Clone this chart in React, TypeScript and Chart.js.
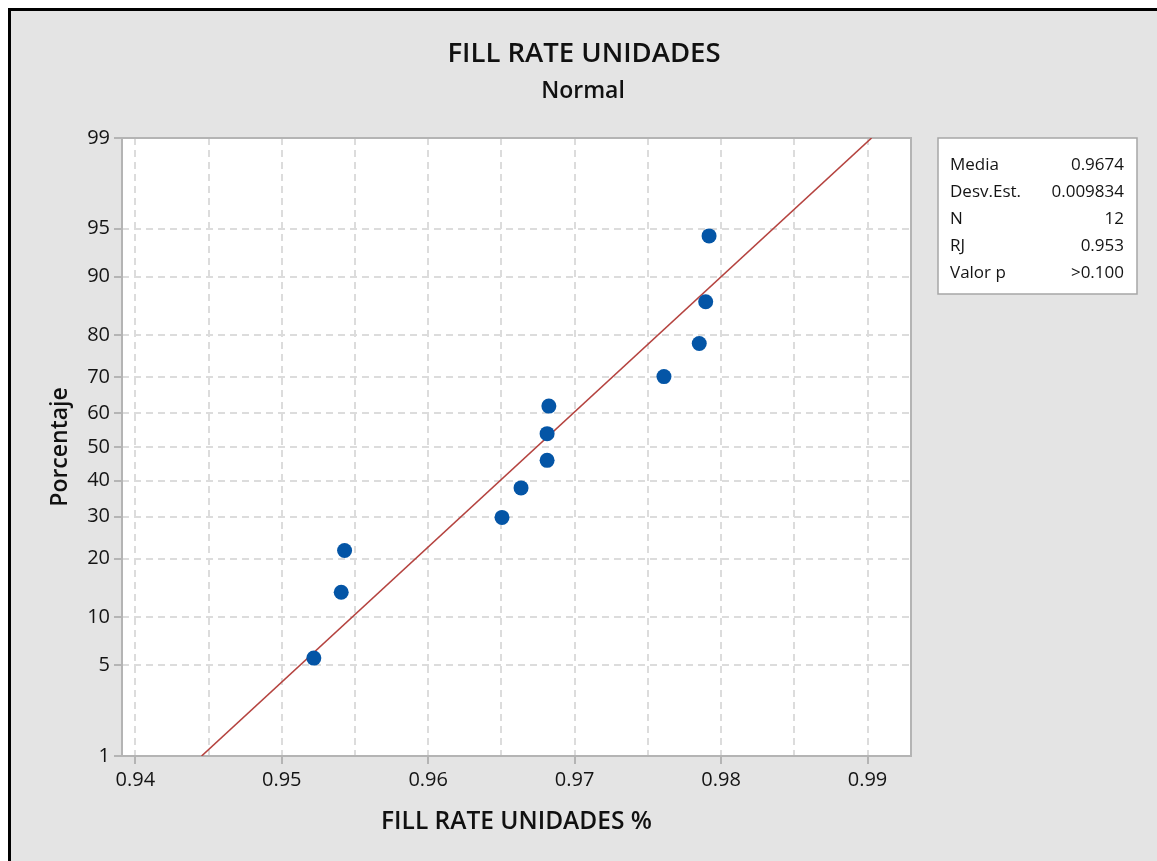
import React, { useEffect, useRef } from "react";
import { Chart, registerables } from "chart.js";

Chart.register(...registerables);

const TITLE = "FILL RATE UNIDADES";
const SUBTITLE = "Normal";
const X_TITLE = "FILL RATE UNIDADES %";
const Y_TITLE = "Porcentaje";

// data points (value, plotting percentage)
const X_VALUES = [0.95219, 0.95406, 0.95429, 0.96504, 0.96634, 0.96812, 0.96812, 0.96824, 0.9761, 0.97851, 0.97895, 0.97918];
const PCT_VALUES = [5.6, 13.7, 21.8, 29.8, 37.9, 46.0, 54.0, 62.1, 70.2, 78.2, 86.3, 94.4];

// fitted normal line
const FIT_MEAN = 0.9674;
const FIT_SD = 0.009834;
const FIT_PCT_RANGE = [1, 99];

// axes
const Y_TICKS = [1, 5, 10, 20, 30, 40, 50, 60, 70, 80, 90, 95, 99];
const X_TICKS = [0.94, 0.945, 0.95, 0.955, 0.96, 0.965, 0.97, 0.975, 0.98, 0.985, 0.99];
const X_LABELS = ["0.94", "", "0.95", "", "0.96", "", "0.97", "", "0.98", "", "0.99"];
const X_MIN = 0.93909;
const X_MAX = 0.99297;

// statistics box
const STAT_LABELS = ["Media", "Desv.Est.", "N", "RJ", "Valor p"];
const STAT_VALUES = ["0.9674", "0.009834", "12", "0.953", ">0.100"];

const FONT = "'Open Sans', 'Noto Sans', sans-serif";

function probit(p: number): number {
  const a = [-3.969683028665376e1, 2.209460984245205e2, -2.759285104469687e2, 1.38357751867269e2, -3.066479806614716e1, 2.506628277459239];
  const b = [-5.447609879822406e1, 1.615858368580409e2, -1.556989798598866e2, 6.680131188771972e1, -1.328068155288572e1];
  const c = [-7.784894002430293e-3, -3.223964580411365e-1, -2.400758277161838, -2.549732539343734, 4.374664141464968, 2.938163982698783];
  const d = [7.784695709041462e-3, 3.224671290700398e-1, 2.445134137142996, 3.754408661907416];
  const pl = 0.02425;
  const ph = 1 - pl;
  let q: number, r: number;
  if (p < pl) {
    q = Math.sqrt(-2 * Math.log(p));
    return (((((c[0] * q + c[1]) * q + c[2]) * q + c[3]) * q + c[4]) * q + c[5]) / ((((d[0] * q + d[1]) * q + d[2]) * q + d[3]) * q + 1);
  }
  if (p <= ph) {
    q = p - 0.5;
    r = q * q;
    return ((((((a[0] * r + a[1]) * r + a[2]) * r + a[3]) * r + a[4]) * r + a[5]) * q) / (((((b[0] * r + b[1]) * r + b[2]) * r + b[3]) * r + b[4]) * r + 1);
  }
  q = Math.sqrt(-2 * Math.log(1 - p));
  return -(((((c[0] * q + c[1]) * q + c[2]) * q + c[3]) * q + c[4]) * q + c[5]) / ((((d[0] * q + d[1]) * q + d[2]) * q + d[3]) * q + 1);
}

const decorPlugin = {
  id: "decor",
  beforeDraw(chart: any) {
    const { ctx, chartArea: ca } = chart;
    ctx.save();
    ctx.fillStyle = "#ffffff";
    ctx.fillRect(ca.left, ca.top, ca.right - ca.left, ca.bottom - ca.top);
    ctx.restore();
  },
  beforeDatasetsDraw(chart: any) {
    const { ctx, chartArea: ca } = chart;
    ctx.save();
    ctx.strokeStyle = "#b4b4b4";
    ctx.lineWidth = 2;
    ctx.strokeRect(ca.left, ca.top, ca.right - ca.left, ca.bottom - ca.top);
    ctx.restore();
  },
  afterDraw(chart: any) {
    const { ctx, chartArea: ca } = chart;
    ctx.save();
    ctx.fillStyle = "#111111";
    ctx.textAlign = "center";
    ctx.textBaseline = "alphabetic";
    ctx.font = `600 27.5px ${FONT}`;
    ctx.fillText(TITLE, 573, 51);
    ctx.font = `600 23px ${FONT}`;
    ctx.fillText(SUBTITLE, 572, 87);
    ctx.font = `600 24.5px ${FONT}`;
    ctx.fillText(X_TITLE, (ca.left + ca.right) / 2, 818);
    ctx.save();
    ctx.translate(56, (ca.top + ca.bottom) / 2);
    ctx.rotate(-Math.PI / 2);
    ctx.font = `600 23px ${FONT}`;
    ctx.fillText(Y_TITLE, 0, 0);
    ctx.restore();

    // stats box
    const bx = 927, by = 127, bw = 199, bh = 156;
    ctx.fillStyle = "#ffffff";
    ctx.fillRect(bx, by, bw, bh);
    ctx.strokeStyle = "#a6a6a6";
    ctx.lineWidth = 1.5;
    ctx.strokeRect(bx, by, bw, bh);
    ctx.fillStyle = "#141414";
    ctx.font = `17px ${FONT}`;
    STAT_LABELS.forEach((lab, i) => {
      const y = 159 + i * 26.9;
      ctx.textAlign = "left";
      ctx.fillText(lab, 939, y);
      ctx.textAlign = "right";
      ctx.fillText(STAT_VALUES[i], 1113, y);
    });
    ctx.restore();
  },
};

export default function App() {
  const ref = useRef<HTMLCanvasElement | null>(null);

  useEffect(() => {
    if (!ref.current) return;
    const points = X_VALUES.map((x, i) => ({ x, y: probit(PCT_VALUES[i] / 100) }));
    const fit = FIT_PCT_RANGE.map((p) => {
      const z = probit(p / 100);
      return { x: FIT_MEAN + z * FIT_SD, y: z };
    });
    const tickFont = { family: FONT, size: 20 };
    const chart = new Chart(ref.current, {
      type: "scatter",
      data: {
        datasets: [
          {
            label: "Datos",
            data: points,
            backgroundColor: "#0455a6",
            borderColor: "#0455a6",
            pointRadius: 7.5,
            pointHoverRadius: 7.5,
            borderWidth: 0,
          },
          {
            label: "Ajuste",
            data: fit,
            showLine: true,
            borderColor: "#b5433f",
            borderWidth: 1.6,
            pointRadius: 0,
            pointHoverRadius: 0,
            fill: false,
          } as any,
        ],
      },
      options: {
        animation: false,
        responsive: false,
        events: [],
        layout: { padding: { left: 0, top: 127, right: 246, bottom: 0 } },
        plugins: {
          legend: { display: false },
          tooltip: { enabled: false },
          title: { display: false },
        },
        scales: {
          x: {
            type: "linear",
            min: X_MIN,
            max: X_MAX,
            afterBuildTicks: (scale: any) => {
              scale.ticks = X_TICKS.map((v) => ({ value: v }));
            },
            afterFit: (scale: any) => {
              scale.height = 105;
            },
            ticks: {
              autoSkip: false,
              maxRotation: 0,
              padding: 4,
              color: "#141414",
              font: tickFont,
              callback: (_v: any, i: number) => X_LABELS[i],
            },
            grid: {
              color: "#dcdcdc",
              lineWidth: 2,
              tickLength: 8,
              tickWidth: 2,
              tickColor: (c: any) => (X_LABELS[c.index] ? "#b4b4b4" : "rgba(0,0,0,0)"),
              tickBorderDash: [],
            },
            border: { display: false, dash: [7, 5] },
          },
          y: {
            type: "linear",
            min: probit(Y_TICKS[0] / 100),
            max: probit(Y_TICKS[Y_TICKS.length - 1] / 100),
            afterBuildTicks: (scale: any) => {
              scale.ticks = Y_TICKS.map((p) => ({ value: probit(p / 100) }));
            },
            afterFit: (scale: any) => {
              scale.width = 111;
            },
            ticks: {
              autoSkip: false,
              padding: 4,
              color: "#141414",
              font: tickFont,
              callback: (_v: any, i: number) => String(Y_TICKS[i]),
            },
            grid: {
              color: "#dcdcdc",
              lineWidth: 2,
              tickLength: 8,
              tickWidth: 2,
              tickColor: "#b4b4b4",
              tickBorderDash: [],
            },
            border: { display: false, dash: [7, 5] },
          },
        },
      },
      plugins: [decorPlugin],
    });
    return () => chart.destroy();
  }, []);

  return (
    <div
      style={{
        position: "fixed",
        left: 8,
        top: 8,
        width: 1149,
        height: 853,
        boxSizing: "border-box",
        borderTop: "3px solid #000",
        borderLeft: "3px solid #000",
        background: "#e4e4e4",
        overflow: "hidden",
      }}
    >
      <canvas ref={ref} width={1146} height={850} style={{ display: "block", width: 1146, height: 850 }} />
    </div>
  );
}
